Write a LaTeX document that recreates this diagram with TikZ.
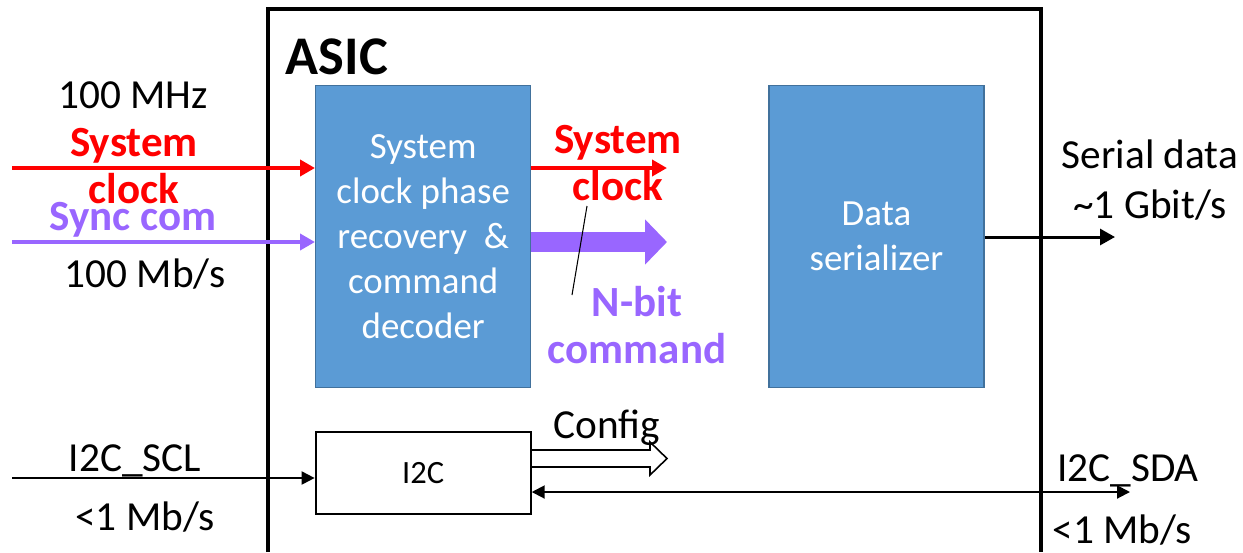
\documentclass[tikz,border=0pt]{standalone}
\usepackage{fontspec}
\setmainfont{Carlito}
\usepackage{tikz}
\usetikzlibrary{arrows.meta,positioning}
\definecolor{sigred}{HTML}{FF0000}
\definecolor{sigpurple}{HTML}{9966FF}
\definecolor{blockfill}{HTML}{5B9BD5}
\definecolor{blockline}{HTML}{41719C}

\begin{document}
\begin{tikzpicture}[x=0.02cm, y=-0.02cm,
  block/.style={draw=blockline, fill=blockfill, line width=0.8pt, minimum width=4.3cm, minimum height=6.04cm, align=center, text=white, font=\fontsize{21}{25.5}\selectfont},
  plainbox/.style={draw, fill=white, line width=1.2pt, minimum width=4.3cm, minimum height=1.64cm, font=\fontsize{18.5}{20}\selectfont},
  lbl/.style={align=center, font=\fontsize{23.5}{28}\selectfont},
  boldlbl/.style={align=center, font=\fontsize{24.5}{27}\selectfont\bfseries},
  sig/.style={-{Triangle[length=3mm,width=3.2mm]}, line width=2.3pt},
  thin/.style={-{Triangle[length=2.6mm,width=2.6mm]}, line width=1.1pt}
]
\useasboundingbox (0,0) rectangle (1243,552);
% chip outline, open at the bottom
\draw[line width=2.3pt] (268,552) -- (268,9) -- (1041,9) -- (1041,552);
\node[font=\fontsize{31}{36}\selectfont\bfseries] (asic) at (337,57) {ASIC};

\node[block, anchor=north west] (recov) at (315,85) {System\\clock phase\\recovery~ \&\\command\\decoder};
\node[block, right=4.74cm of recov] (ser) {Data\\serializer};
\node[plainbox, below=0.86cm of recov] (i2c) {I2C};

\coordinate (clkin) at (12,168);
\coordinate (syncin) at (12,242);
\coordinate (sclin) at (12,478);
\coordinate (clkout) at (667,168);
\coordinate (cmdout) at (667,242);
\coordinate (cfgtop) at (650,450);
\coordinate (cfgbot) at (650,467);
\coordinate (serout) at (1115,237);
\coordinate (sdaout) at (1130,492);

% inputs
\draw[sig, sigred] (clkin) -- (clkin -| recov.west);
\draw[sig, sigpurple] (syncin) -- (syncin -| recov.west);
\draw[thin] (sclin) -- (sclin -| i2c.west);
\node[lbl] (mhz) at (133,95) {100 MHz};
\node[boldlbl, text=sigred] (clkinlbl) at (134,166) {System\\clock};
\node[boldlbl, text=sigpurple] (synclbl) at (133,220) {Sync com};
\node[lbl] (mbs) at (145,274) {100 Mb/s};
\node[lbl] (scllbl) at (135,461) {I2C\_SCL};
\node[lbl] (sclrate) at (145,517) {<1 Mb/s};

% outputs of the recovery block
\draw[sig, sigred] (recov.east |- clkout) -- (clkout);
\draw[sigpurple, line width=0.4cm, -{Triangle[length=0.44cm,width=0.88cm]}] (recov.east |- cmdout) -- (cmdout);
\node[boldlbl, text=sigred] (clkoutlbl) at (618,163) {System\\clock};
\node[boldlbl, text=sigpurple] (cmdlbl) at (637,325) {N-bit\\command};
\coordinate (leadlo) at (572,295);
\coordinate (leadhi) at (587,206);
\draw[line width=0.6pt] (leadlo) -- (leadhi);

% serial data
\draw[sig, line width=1.7pt] (ser.east |- serout) -- (serout);
\node[lbl] (serlbl) at (1150,180) {Serial data\\\textasciitilde 1 Gbit/s};

% I2C side
\draw[line width=0.9pt, line join=miter] (i2c.east |- cfgtop) -- (cfgtop) -- ++(0,-8) -- (667,458.5) -- (650,475) -- (cfgbot) -- (i2c.east |- cfgbot);
\node[lbl] (cfglbl) at (607,428) {Config};
\draw[thin, {Triangle[length=2.6mm,width=2.6mm]}-{Triangle[length=2.6mm,width=2.6mm]}] (i2c.east |- sdaout) -- (sdaout);
\node[lbl] (sdalbl) at (1128,471) {I2C\_SDA};
\node[lbl] (sdarate) at (1122,530) {<1 Mb/s};
\end{tikzpicture}
\end{document}
